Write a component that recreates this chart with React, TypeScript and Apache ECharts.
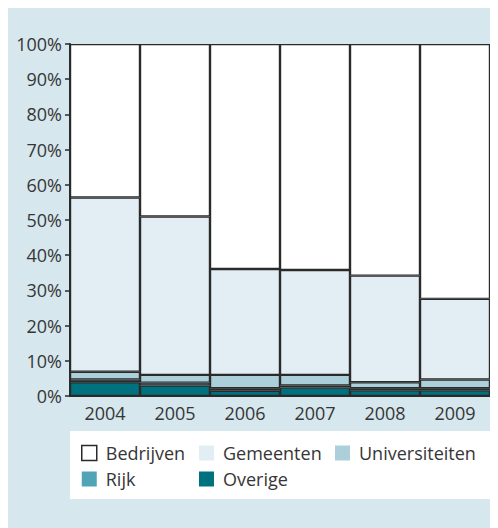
import React, { useEffect, useRef } from "react";
import * as echarts from "echarts";

const years = ["2004", "2005", "2006", "2007", "2008", "2009"];
const overige = [3.9, 3.0, 1.5, 2.4, 1.6, 1.6];
const rijk = [0.8, 0.8, 0.7, 0.6, 0.6, 0.6];
const universiteiten = [2.2, 2.2, 3.8, 3.0, 1.7, 2.5];
const gemeenten = [49.5, 45.0, 30.1, 29.8, 30.3, 22.9];
const bedrijven = [43.6, 49.0, 63.9, 64.2, 65.8, 72.4];

const FONT = "'Open Sans', 'Noto Sans', sans-serif";
const DARK = "#2a2a2a";
const TEXT = "#363636";

export default function App() {
  const ref = useRef<HTMLDivElement>(null);
  useEffect(() => {
    if (!ref.current) return;
    const chart = echarts.init(ref.current, null, { renderer: "svg" });
    const mk = (name: string, data: number[], color: string) => ({
      name,
      type: "bar",
      stack: "total",
      data,
      barCategoryGap: "0%",
      itemStyle: { color, borderColor: DARK, borderWidth: 1.2 },
      emphasis: { disabled: true },
    });
    const legendBase = {
      orient: "vertical",
      icon: "rect",
      itemWidth: 15,
      itemHeight: 15,
      itemGap: 6,
      top: 435,
      padding: 0,
      selectedMode: false,
      textStyle: { fontFamily: FONT, fontSize: 18, color: TEXT, lineHeight: 20, padding: [0, 0, 0, 4] },
      itemStyle: { borderWidth: 0 },
    };
    chart.setOption({
      animation: false,
      textStyle: { fontFamily: FONT },
      grid: { left: 62, right: 8, top: 36, bottom: 132, containLabel: false },
      graphic: [
        { type: "rect", shape: { x: 62, y: 423, width: 420, height: 68 }, style: { fill: "#ffffff" }, z: -1 },
      ],
      legend: [
        {
          ...legendBase,
          left: 73,
          data: [
            { name: "Bedrijven", itemStyle: { borderColor: DARK, borderWidth: 1.5, color: "#ffffff" } },
            { name: "Rijk" },
          ],
        },
        { ...legendBase, left: 191, data: [{ name: "Gemeenten" }, { name: "Overige" }] },
        { ...legendBase, left: 327, data: [{ name: "Universiteiten" }] },
      ],
      xAxis: {
        type: "category",
        data: years,
        axisLine: { lineStyle: { color: DARK, width: 2 } },
        axisTick: { length: 5, lineStyle: { color: DARK, width: 1.5 } },
        axisLabel: { fontFamily: FONT, fontSize: 18, color: TEXT, margin: 8 },
        z: 5,
      },
      yAxis: {
        type: "value",
        min: 0,
        max: 100,
        interval: 10,
        axisLine: { show: true, lineStyle: { color: DARK, width: 2 } },
        axisTick: { show: true, length: 5, lineStyle: { color: DARK, width: 1.5 } },
        splitLine: { show: false },
        axisLabel: { formatter: "{value}%", fontFamily: FONT, fontSize: 18, color: TEXT, margin: 8 },
        z: 5,
      },
      series: [
        mk("Overige", overige, "#00717f"),
        mk("Rijk", rijk, "#50a4b6"),
        mk("Universiteiten", universiteiten, "#abd0da"),
        mk("Gemeenten", gemeenten, "#e2eef3"),
        mk("Bedrijven", bedrijven, "#ffffff"),
      ],
    });
    return () => chart.dispose();
  }, []);
  return (
    <div ref={ref} style={{ width: 490, height: 520, background: "#d6e7ee" }} />
  );
}
